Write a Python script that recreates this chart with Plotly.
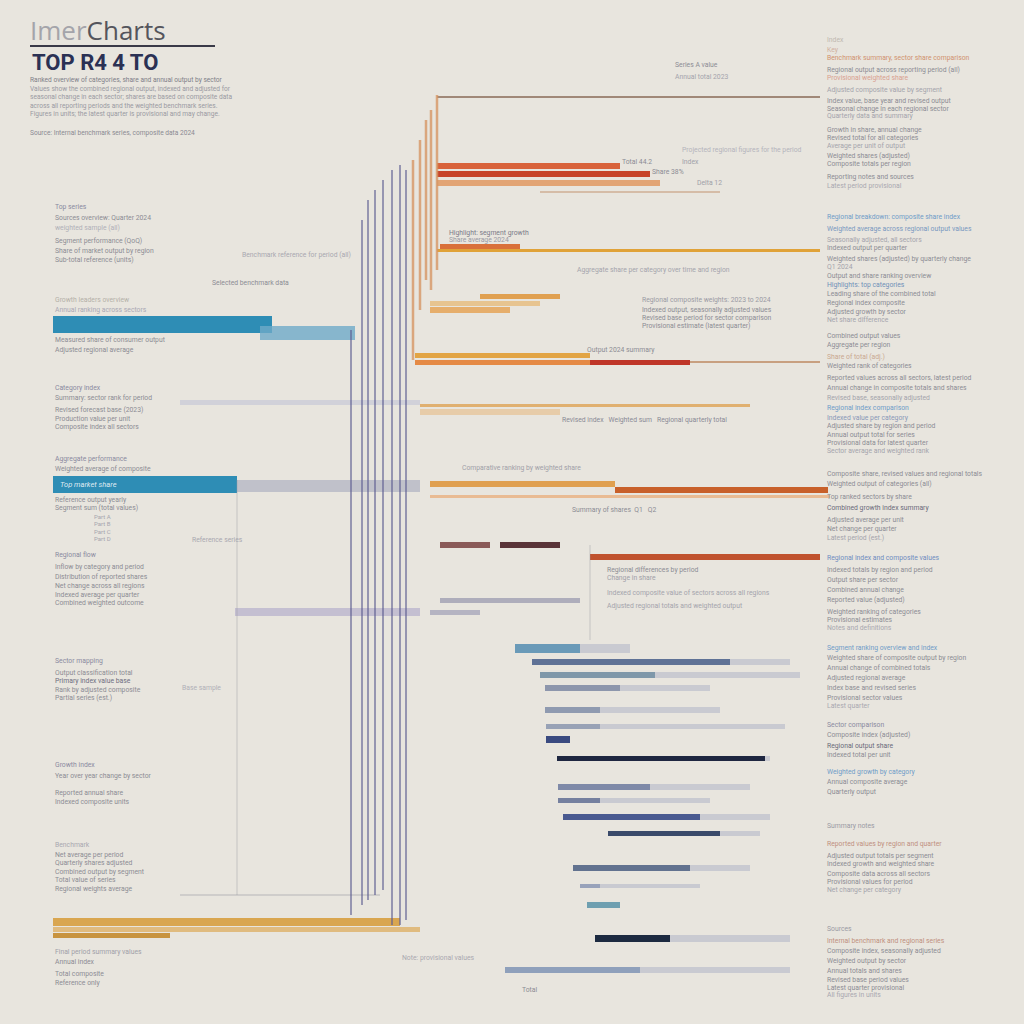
import plotly.graph_objects as go

# ---------------- text ----------------
TITLE_A = "Imer"
TITLE_B = "Charts"
SUBTITLE = "TOP R4 4 TO"
INTRO = [
    "Ranked overview of categories, share and annual output by sector",
    "Values show the combined regional output, indexed and adjusted for",
    "seasonal change in each sector; shares are based on composite data",
    "across all reporting periods and the weighted benchmark series.",
    "Figures in units; the latest quarter is provisional and may change.",
]
SOURCE = "Source: Internal benchmark series, composite data 2024"

# ---------------- data ----------------
# left group (teal / gold) : row position, start value, end value
left_row   = [324, 333, 484, 486, 402, 612, 922, 929, 935, 895]
left_start = [53, 260, 53, 237, 180, 235, 53, 53, 53, 180]
left_end   = [272, 355, 237, 420, 420, 420, 400, 420, 170, 380]

# warm group (red / orange / gold)
warm_row   = [97, 166, 174, 183, 192, 246, 250, 296, 303, 310, 355, 362, 362, 362,
              405, 412, 484, 490, 496, 545, 545, 557, 600, 612]
warm_start = [437, 437, 437, 437, 540, 440, 437, 480, 430, 430, 415, 415, 590, 690,
              420, 420, 430, 615, 430, 440, 500, 590, 440, 430]
warm_end   = [820, 620, 650, 660, 720, 520, 820, 560, 540, 510, 590, 590, 690, 820,
              750, 560, 615, 828, 830, 490, 560, 820, 580, 480]

# slate group (blue-grey staircase): solid part and faded extent
slate_row   = [648, 662, 675, 688, 710, 726, 739, 758, 787, 800, 817, 833, 868, 886, 905, 938, 970]
slate_start = [515, 532, 540, 545, 545, 546, 546, 557, 558, 558, 563, 608, 573, 580, 587, 595, 505]
slate_core  = [580, 730, 655, 620, 600, 600, 570, 765, 650, 600, 700, 720, 690, 600, 620, 670, 640]
slate_end   = [630, 790, 800, 710, 720, 785, 570, 770, 750, 710, 770, 760, 750, 700, 620, 790, 790]

# vertical guide lines: x value, top row, bottom row
vl_x      = [351, 362, 368, 375, 383, 392, 400, 406]
vl_top    = [330, 220, 200, 190, 180, 170, 165, 170]
vl_bottom = [915, 905, 900, 895, 890, 925, 925, 920]
vw_x      = [413, 420, 426, 431, 437]
vw_top    = [160, 140, 120, 110, 95]
vw_bottom = [360, 310, 280, 290, 270]
vg_x      = [237, 590]
vg_top    = [480, 545]
vg_bottom = [895, 640]

# ---------------- styles ----------------
left_colors = ['#2e8db5', 'rgba(110,170,200,0.8)', '#2e8db5', 'rgba(165,168,188,0.6)',
               'rgba(185,190,212,0.5)', 'rgba(165,160,198,0.55)', '#d9a650',
               'rgba(222,180,110,0.85)', '#c89440', 'rgba(160,160,170,0.35)']
left_thick = [17, 14, 17, 12, 5, 8, 8, 5, 5, 1.5]

warm_colors = ['#a08878', '#d8623a', '#c7442a', '#e2a474', 'rgba(200,160,130,0.6)', '#d9703a',
               '#e0a238', '#e0a050', 'rgba(230,190,130,0.85)', '#e6ae6c', '#e2a444', '#e58a45',
               '#bf3628', '#c8a080', '#e0b070', 'rgba(230,200,160,0.85)', '#e0a050', '#c8602a',
               'rgba(232,176,128,0.8)', '#8a5a58', '#5a3438', '#c0522e',
               'rgba(150,150,172,0.7)', 'rgba(160,160,182,0.7)']
warm_thick = [2, 6, 6, 6, 2, 5, 3, 5, 5, 6, 5, 5, 5, 2, 3, 6, 6, 6, 3, 6, 6, 6, 5, 5]

slate_colors = ['#6a9ab8', '#5f7296', '#7f98aa', '#8d96ac', '#8f9ab0', '#98a2b6', '#3a4a80',
                '#1e2640', '#7f8aa8', '#75809f', '#4a5a90', '#3a4a6a', '#62728f', '#98a2ba',
                '#6e9fb0', '#1c2a40', '#8fa0bb']
slate_thick = [9, 6, 6, 6, 6, 5, 7, 5, 6, 5, 6, 5, 6, 4, 6, 7, 6]

BG = '#e8e5de'
TXT = '#8c8c94'
FONT = 'Roboto'

fig = go.Figure()


def hbars(rows, starts, ends, colors, thick, name):
    fig.add_trace(go.Bar(
        orientation='h', y=rows, base=starts,
        x=[e - s for s, e in zip(starts, ends)],
        width=thick, marker=dict(color=colors, line=dict(width=0)),
        name=name, showlegend=False, hoverinfo='skip'))


hbars(slate_row, slate_start, slate_end, ['rgba(175,180,198,0.55)'] * len(slate_row), slate_thick, 'slate fade')
hbars(left_row, left_start, left_end, left_colors, left_thick, 'left')
hbars(warm_row, warm_start, warm_end, warm_colors, warm_thick, 'warm')
hbars(slate_row, slate_start, slate_core, slate_colors, slate_thick, 'slate')


def vlines(xs, tops, bottoms, color, w):
    X, Y = [], []
    for x, t, b in zip(xs, tops, bottoms):
        X += [x, x, None]
        Y += [t, b, None]
    fig.add_trace(go.Scatter(x=X, y=Y, mode='lines', line=dict(color=color, width=w),
                             showlegend=False, hoverinfo='skip'))


vlines(vg_x, vg_top, vg_bottom, 'rgba(150,150,160,0.45)', 1)
vlines(vl_x, vl_top, vl_bottom, 'rgba(95,95,145,0.75)', 1.6)
vlines(vw_x, vw_top, vw_bottom, 'rgba(214,150,100,0.8)', 2.5)


def txt(x, y, s, size=7.5, color=TXT, bold=False, anchor='left'):
    if bold:
        s = '<b>' + s + '</b>'
    fig.add_annotation(x=x, y=y, xref='x', yref='y', text=s, showarrow=False,
                       xanchor=anchor, yanchor='middle',
                       font=dict(family=FONT, size=size, color=color))


# ---- title block ----
fig.add_annotation(x=28, y=30, xref='x', yref='y', showarrow=False, xanchor='left', yanchor='middle',
                   text="<span style='color:#a4a4aa'>%s</span><span style='color:#55555c'>%s</span>" % (TITLE_A, TITLE_B),
                   font=dict(family='Open Sans', size=26))
fig.add_shape(type='line', x0=30, x1=215, y0=46, y1=46, xref='x', yref='y',
              line=dict(color='#3a3a48', width=2))
txt(30, 62, SUBTITLE, size=22, color='#2b3154', bold=True)
for i, line in enumerate(INTRO):
    txt(28, 80 + i * 8.5, line, size=6.6, color='#7e7e88' if i == 0 else '#9a9aa2')
txt(28, 133, SOURCE, size=6.6, color='#8a8a92')

# ---- left column labels ----
left_text = [
    (207, "Top series", '#8a8aa0'), (218, "Sources overview: Quarter 2024", TXT),
    (228, "weighted sample (all)", '#b0b0b8'),
    (241, "Segment performance (QoQ)", TXT), (251, "Share of market output by region", TXT),
    (260, "Sub-total reference (units)", TXT),
    (300, "Growth leaders overview", '#b4b0a8'), (310, "Annual ranking across sectors", '#a8a8b4'),
    (340, "Measured share of consumer output", TXT), (350, "Adjusted regional average", TXT),
    (388, "Category index", '#8a8aa0'), (398, "Summary: sector rank for period", TXT),
    (410, "Revised forecast base (2023)", TXT), (419, "Production value per unit", TXT),
    (427, "Composite index all sectors", TXT),
    (459, "Aggregate performance", '#8a8aa0'), (469, "Weighted average of composite", TXT),
    (500, "Reference output yearly", TXT), (508, "Segment sum (total values)", TXT),
    (555, "Regional flow", '#8a8aa0'), (567, "Inflow by category and period", TXT),
    (577, "Distribution of reported shares", TXT), (586, "Net change across all regions", TXT),
    (595, "Indexed average per quarter", TXT), (603, "Combined weighted outcome", TXT),
    (661, "Sector mapping", '#8a8aa0'), (673, "Output classification total", TXT),
    (681, "Primary index value base", '#6e6e80'), (690, "Rank by adjusted composite", TXT),
    (698, "Partial series (est.)", TXT),
    (765, "Growth index", '#8a8aa0'), (776, "Year over year change by sector", TXT),
    (793, "Reported annual share", TXT), (802, "Indexed composite units", TXT),
    (845, "Benchmark", '#a8a8b0'), (855, "Net average per period", TXT),
    (863, "Quarterly shares adjusted", TXT), (872, "Combined output by segment", TXT),
    (880, "Total value of series", TXT), (889, "Regional weights average", TXT),
    (952, "Final period summary values", '#a0a0a8'), (962, "Annual index", TXT),
    (974, "Total composite", TXT), (983, "Reference only", TXT),
]
for y, s, c in left_text:
    txt(53, y, s, size=6.8, color=c)
for i, s in enumerate(["Part A", "Part B", "Part C", "Part D"]):
    txt(92, 516 + i * 7.5, s, size=6, color='#a6a6ae')
txt(58, 484, "<i>Top market share</i>", size=7.5, color='rgba(255,255,255,0.85)')

# ---- middle labels ----
mid_text = [
    (673, 65, "Series A value", TXT), (673, 77, "Annual total 2023", '#a4a4ac'),
    (680, 150, "Projected regional figures for the period", '#b4b4bc'), (680, 162, "Index", '#a0a0a8'),
    (620, 162, "Total 44.2", TXT), (650, 172, "Share 38%", TXT), (695, 183, "Delta 12", '#a0a0a8'),
    (447, 233, "Highlight: segment growth", '#7a7a88'), (447, 240, "Share average 2024", '#9a9aa4'),
    (210, 283, "Selected benchmark data", TXT), (240, 255, "Benchmark reference for period (all)", '#a8a8b0'),
    (575, 270, "Aggregate share per category over time and region", '#a4a4ac'),
    (640, 300, "Regional composite weights: 2023 to 2024", '#9a9aa4'),
    (640, 310, "Indexed output, seasonally adjusted values", TXT),
    (640, 318, "Revised base period for sector comparison", TXT),
    (640, 326, "Provisional estimate (latest quarter)", TXT),
    (585, 350, "Output 2024 summary", TXT),
    (560, 420, "Revised index   Weighted sum   Regional quarterly total", '#8a8a96'),
    (570, 510, "Summary of shares  Q1   Q2", TXT),
    (605, 570, "Regional differences by period", TXT), (605, 578, "Change in share", '#a0a0a8'),
    (605, 593, "Indexed composite value of sectors across all regions", '#a4a4ac'),
    (605, 606, "Adjusted regional totals and weighted output", '#a4a4ac'),
    (460, 468, "Comparative ranking by weighted share", '#a0a0a8'),
    (190, 540, "Reference series", '#a8a8b0'), (180, 688, "Base sample", '#b0b0b8'),
    (520, 990, "Total", TXT), (400, 958, "Note: provisional values", '#a8a8b0'),
]
for x, y, s, c in mid_text:
    txt(x, y, s, size=6.8, color=c)

# ---- right column ----
right_text = [
    (40, "Index", '#c0b8b0'), (50, "Key", '#d0b0a0'),
    (58, "Benchmark summary, sector share comparison", '#d0926e'),
    (70, "Regional output across reporting period (all)", TXT),
    (78, "Provisional weighted share", '#d8a090'), (90, "Adjusted composite value by segment", '#a4a4ac'),
    (101, "Index value, base year and revised output", TXT),
    (109, "Seasonal change in each regional sector", TXT), (116, "Quarterly data and summary", '#a4a4ac'),
    (130, "Growth in share, annual change", TXT), (138, "Revised total for all categories", TXT),
    (146, "Average per unit of output", '#a4a4ac'), (156, "Weighted shares (adjusted)", TXT),
    (164, "Composite totals per region", TXT), (177, "Reporting notes and sources", TXT),
    (186, "Latest period provisional", '#a8a8b0'),
    (217, "Regional breakdown: composite share index", '#6f9cc8'),
    (229, "Weighted average across regional output values", '#7898c0'),
    (240, "Seasonally adjusted, all sectors", '#a4a4ac'), (248, "Indexed output per quarter", TXT),
    (259, "Weighted shares (adjusted) by quarterly change", TXT), (267, "Q1 2024", '#a4a4ac'),
    (276, "Output and share ranking overview", TXT), (285, "Highlights: top categories", '#7090b8'),
    (294, "Leading share of the combined total", TXT), (303, "Regional index composite", TXT),
    (312, "Adjusted growth by sector", TXT), (320, "Net share difference", '#a4a4ac'),
    (336, "Combined output values", TXT), (345, "Aggregate per region", TXT),
    (357, "Share of total (adj.)", '#c8a890'), (366, "Weighted rank of categories", TXT),
    (378, "Reported values across all sectors, latest period", TXT),
    (388, "Annual change in composite totals and shares", TXT),
    (398, "Revised base, seasonally adjusted", '#a4a4ac'),
    (408, "Regional index comparison", '#6f9cc8'), (418, "Indexed value per category", '#8898b8'),
    (426, "Adjusted share by region and period", TXT), (435, "Annual output total for series", TXT),
    (443, "Provisional data for latest quarter", TXT), (451, "Sector average and weighted rank", '#a4a4ac'),
    (474, "Composite share, revised values and regional totals", TXT),
    (484, "Weighted output of categories (all)", TXT), (497, "Top ranked sectors by share", TXT),
    (508, "Combined growth index summary", '#6a6a7a'), (520, "Adjusted average per unit", TXT),
    (529, "Net change per quarter", TXT), (538, "Latest period (est.)", '#a4a4ac'),
    (558, "Regional index and composite values", '#6f8cc0'),
    (570, "Indexed totals by region and period", TXT), (580, "Output share per sector", TXT),
    (590, "Combined annual change", TXT), (600, "Reported value (adjusted)", TXT),
    (612, "Weighted ranking of categories", TXT), (620, "Provisional estimates", TXT),
    (628, "Notes and definitions", '#a8a8b0'),
    (648, "Segment ranking overview and index", '#6f9cc8'),
    (658, "Weighted share of composite output by region", TXT),
    (668, "Annual change of combined totals", TXT), (678, "Adjusted regional average", TXT),
    (688, "Index base and revised series", TXT), (698, "Provisional sector values", TXT),
    (706, "Latest quarter", '#a8a8b0'),
    (725, "Sector comparison", '#8a8aa0'), (735, "Composite index (adjusted)", TXT),
    (746, "Regional output share", '#6a6a7a'), (755, "Indexed total per unit", TXT),
    (772, "Weighted growth by category", '#6f9cc8'), (782, "Annual composite average", TXT),
    (792, "Quarterly output", TXT),
    (826, "Summary notes", '#9a9aa4'), (844, "Reported values by region and quarter", '#c09080'),
    (856, "Adjusted output totals per segment", TXT), (864, "Indexed growth and weighted share", TXT),
    (874, "Composite data across all sectors", TXT), (882, "Provisional values for period", TXT),
    (890, "Net change per category", '#a4a4ac'),
    (929, "Sources", '#9a9aa4'), (941, "Internal benchmark and regional series", '#c09080'),
    (951, "Composite index, seasonally adjusted", TXT), (961, "Weighted output by sector", TXT),
    (971, "Annual totals and shares", TXT), (980, "Revised base period values", TXT),
    (988, "Latest quarter provisional", TXT), (995, "All figures in units", '#a8a8b0'),
]
for y, s, c in right_text:
    txt(825, y, s, size=6.8, color=c)

fig.update_layout(
    width=1024, height=1024,
    margin=dict(l=0, r=0, t=0, b=0),
    paper_bgcolor=BG, plot_bgcolor=BG,
    barmode='overlay', bargap=0,
    xaxis=dict(range=[0, 1024], visible=False, fixedrange=True),
    yaxis=dict(range=[1024, 0], visible=False, fixedrange=True),
    showlegend=False,
)

fig.write_html("out.html")
